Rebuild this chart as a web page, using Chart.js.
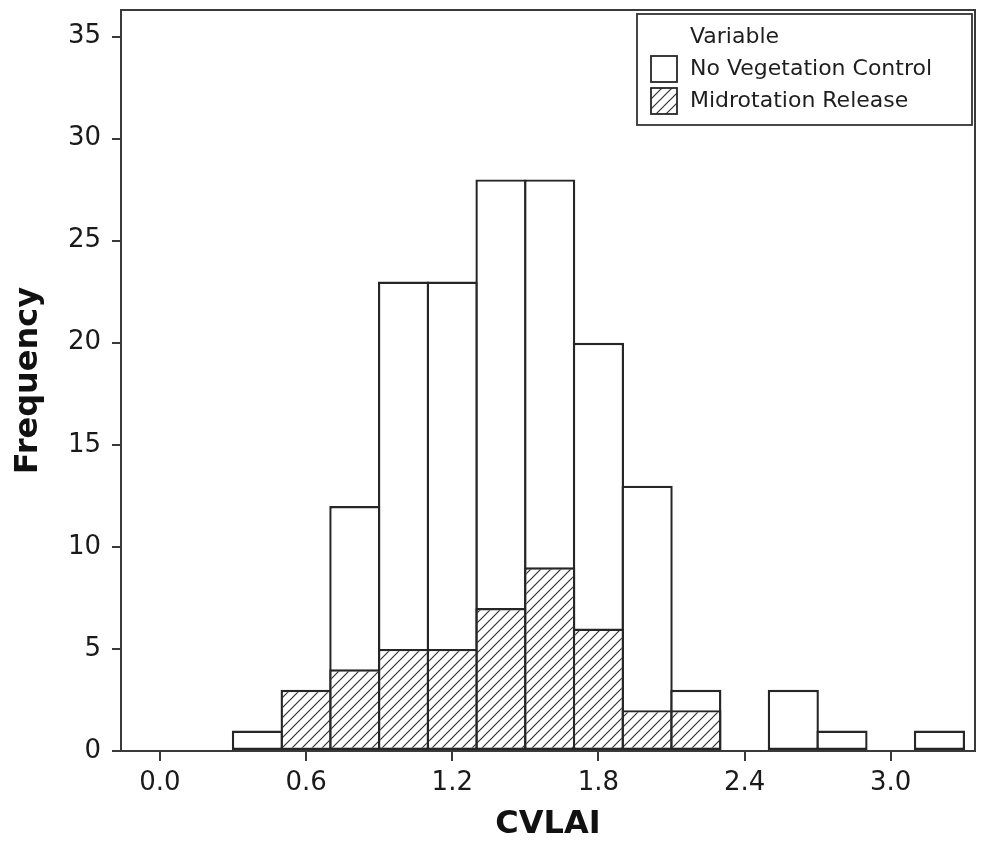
<!DOCTYPE html>
<html>
<head>
<meta charset="utf-8">
<script src="https://cdn.jsdelivr.net/npm/chart.js@4/dist/chart.umd.min.js"></script>
<style>
  html, body { margin: 0; padding: 0; background: #ffffff; }
  canvas { display: block; }
</style>
</head>
<body>
<canvas id="chart" width="982" height="850"></canvas>
<script>
// Histogram bins (midpoints, bin width 0.2) and counts per treatment
const binCenters = [0.4, 0.6, 0.8, 1.0, 1.2, 1.4, 1.6, 1.8, 2.0, 2.2, 2.4, 2.6, 2.8, 3.0, 3.2];
const noVegetationControl = [1, 0, 12, 23, 23, 28, 28, 20, 13, 3, 0, 3, 1, 0, 1];
const midrotationRelease  = [0, 3, 4, 5, 5, 7, 9, 6, 2, 2, 0, 0, 0, 0, 0];

const seriesNames = ['No Vegetation Control', 'Midrotation Release'];
const legendTitle = 'Variable';
const xTitle = 'CVLAI';
const yTitle = 'Frequency';
const xTickValues = [0.0, 0.6, 1.2, 1.8, 2.4, 3.0];
const yTickValues = [0, 5, 10, 15, 20, 25, 30, 35];

const INK = '#262626';
const FONT = '"DejaVu Sans", Verdana, sans-serif';
const BAR_LINE = 2.4;

// Diagonal "/" hatch used for the second series
function makeHatch() {
  const s = 10;
  const c = document.createElement('canvas');
  c.width = s; c.height = s;
  const g = c.getContext('2d');
  g.fillStyle = '#ffffff';
  g.fillRect(0, 0, s, s);
  g.strokeStyle = '#333333';
  g.lineWidth = 1.2;
  g.beginPath();
  g.moveTo(0, s); g.lineTo(s, 0);
  g.moveTo(-s / 2, s / 2); g.lineTo(s / 2, -s / 2);
  g.moveTo(s / 2, s * 1.5); g.lineTo(s * 1.5, s / 2);
  g.stroke();
  return g.createPattern(c, 'repeat');
}
const hatch = makeHatch();

const toPoints = vals => binCenters.map((x, i) => ({ x: x, y: vals[i] }));

// Box around the plot area
const framePlugin = {
  id: 'frame',
  afterDatasetsDraw(chart) {
    const { ctx, chartArea: a } = chart;
    ctx.save();
    ctx.strokeStyle = '#3a3a3a';
    ctx.lineWidth = 2;
    ctx.strokeRect(a.left, a.top, a.right - a.left, a.bottom - a.top);
    ctx.restore();
  }
};

// Boxed legend with a title line, drawn in the upper right of the plot
const boxLegendPlugin = {
  id: 'boxLegend',
  afterDraw(chart) {
    const { ctx, chartArea: a } = chart;
    const w = 335, h = 111;
    const x0 = a.right - 3 - w, y0 = a.top + 4;
    ctx.save();
    ctx.fillStyle = '#ffffff';
    ctx.fillRect(x0, y0, w, h);
    ctx.strokeStyle = '#333333';
    ctx.lineWidth = 1.8;
    ctx.strokeRect(x0, y0, w, h);

    ctx.font = '22px ' + FONT;
    ctx.fillStyle = '#1e1e1e';
    ctx.textBaseline = 'middle';
    ctx.textAlign = 'left';
    const textX = x0 + 53;
    ctx.fillText(legendTitle, textX, y0 + 23);

    // legend rows listed in the order of seriesNames
    seriesNames.forEach((name, i) => {
      const ds = chart.data.datasets.find(d => d.label === name);
      const cy = y0 + 55 + i * 32;
      const sw = 26;
      ctx.fillStyle = ds.backgroundColor;
      ctx.fillRect(x0 + 14, cy - sw / 2, sw, sw);
      ctx.strokeStyle = INK;
      ctx.lineWidth = 1.8;
      ctx.strokeRect(x0 + 14, cy - sw / 2, sw, sw);
      ctx.fillStyle = '#1e1e1e';
      ctx.fillText(name, textX, cy);
    });
    ctx.restore();
  }
};

new Chart(document.getElementById('chart'), {
  type: 'bar',
  data: {
    datasets: [
      {
        // first dataset is painted last, so the hatched bars sit in front
        label: seriesNames[1],
        data: toPoints(midrotationRelease),
        backgroundColor: hatch,
        borderColor: INK,
        borderWidth: BAR_LINE,
        borderSkipped: false
      },
      {
        label: seriesNames[0],
        data: toPoints(noVegetationControl),
        backgroundColor: '#ffffff',
        borderColor: INK,
        borderWidth: BAR_LINE,
        borderSkipped: false
      }
    ]
  },
  options: {
    responsive: false,
    animation: false,
    devicePixelRatio: 1,
    layout: { padding: { top: 10, right: 7, left: 0, bottom: 0 } },
    datasets: {
      // slightly wider than the bin so neighbouring bars share one outline
      bar: { grouped: false, barPercentage: 1.05, categoryPercentage: 1, inflateAmount: 0 }
    },
    plugins: {
      legend: { display: false },
      tooltip: { enabled: false }
    },
    scales: {
      x: {
        type: 'linear',
        min: -0.16,
        max: 3.346,
        offset: false,
        afterBuildTicks: s => { s.ticks = xTickValues.map(v => ({ value: v })); },
        afterFit: s => { s.height = 99; s.paddingLeft = 0; s.paddingRight = 0; },
        border: { display: false },
        grid: { drawOnChartArea: false, drawTicks: true, tickLength: 10, color: '#3a3a3a', lineWidth: 2, offset: false },
        ticks: {
          autoSkip: false,
          maxRotation: 0,
          padding: 7,
          color: '#1a1a1a',
          font: { family: FONT, size: 26 },
          callback: v => Number(v).toFixed(1)
        },
        title: {
          display: true,
          text: xTitle,
          color: '#111111',
          font: { family: FONT, size: 32, weight: 'bold' },
          padding: { top: 0, bottom: 6 }
        }
      },
      y: {
        type: 'linear',
        min: 0,
        max: 36.3,
        afterBuildTicks: s => { s.ticks = yTickValues.map(v => ({ value: v })); },
        afterFit: s => { s.width = 121; s.paddingTop = 0; s.paddingBottom = 0; },
        border: { display: false },
        grid: { drawOnChartArea: false, drawTicks: true, tickLength: 9, color: '#3a3a3a', lineWidth: 2 },
        ticks: {
          padding: 11,
          color: '#1a1a1a',
          font: { family: FONT, size: 26 }
        },
        title: {
          display: true,
          text: yTitle,
          color: '#111111',
          font: { family: FONT, size: 32, weight: 'bold' },
          padding: { top: 9, bottom: 0 }
        }
      }
    }
  },
  plugins: [framePlugin, boxLegendPlugin]
});
</script>
</body>
</html>
